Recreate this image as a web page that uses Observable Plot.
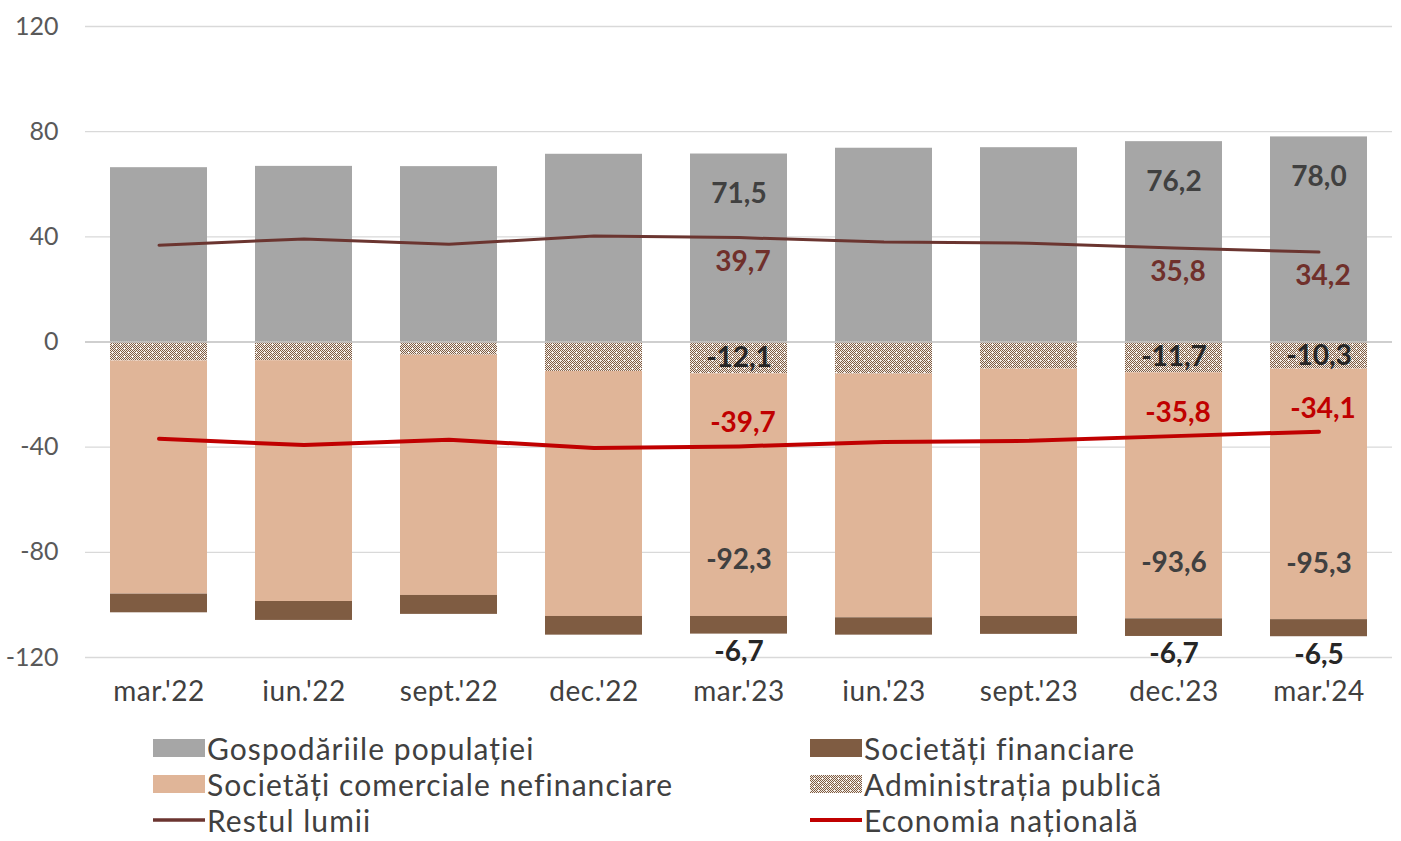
<!DOCTYPE html>
<html><head><meta charset="utf-8">
<script src="https://cdn.jsdelivr.net/npm/d3@7"></script>
<script src="https://cdn.jsdelivr.net/npm/@observablehq/plot@0.6"></script>
<style>
body{margin:0;background:#fff;font-family:Lato,"Open Sans",sans-serif;}
#wrap{position:relative;width:1401px;height:841px;overflow:hidden;}
#chart{position:absolute;left:0;top:0;}
.li{position:absolute;display:flex;align-items:center;height:36px;font-size:30px;letter-spacing:1.05px;color:#404040;white-space:nowrap;}
.li svg{margin-right:2px;}
</style></head><body><div id="wrap"><div id="chart"></div><div id="legend"></div></div>
<script>
const dates = ["mar.'22","iun.'22","sept.'22","dec.'22","mar.'23","iun.'23","sept.'23","dec.'23","mar.'24"];
const households      = [66.3, 66.8, 66.7, 71.4, 71.5, 73.7, 73.9, 76.2, 78.0];
const publicAdmin     = [-7.2, -7.1, -5.0, -11.2, -12.1, -12.2, -10.3, -11.7, -10.3];
const nonFinancial    = [-88.7, -91.6, -91.4, -93.2, -92.3, -92.7, -94.1, -93.6, -95.3];
const financial       = [-7.1, -7.2, -7.2, -7.1, -6.7, -6.6, -6.8, -6.7, -6.5];
const restOfWorld     = [36.8, 39.2, 37.2, 40.3, 39.7, 38.0, 37.6, 35.8, 34.2];
const nationalEconomy = [-36.8, -39.2, -37.2, -40.3, -39.7, -38.0, -37.6, -35.8, -34.1];
const labeledDates = ["mar.'23","dec.'23","mar.'24"];
const yTicks = [-120, -80, -40, 0, 40, 80, 120];
const seriesNames = ["Gospodăriile populației","Administrația publică","Societăți comerciale nefinanciare","Societăți financiare","Restul lumii","Economia națională"];

const colors = {
  "Gospodăriile populației": "#A6A6A6",
  "Administrația publică": "url(#hatch)",
  "Societăți comerciale nefinanciare": "#E0B598",
  "Societăți financiare": "#7F5C42",
  "Restul lumii": "#6B3530",
  "Economia națională": "#C00000"
};
const fmt = v => v.toFixed(1).replace(".", ",");

const barSeries = [households, publicAdmin, nonFinancial, financial];
const bars = [];
dates.forEach((d, i) => {
  barSeries.forEach((arr, k) => bars.push({date: d, series: seriesNames[k], value: arr[i]}));
});
const lineRow = dates.map((d, i) => ({date: d, row: restOfWorld[i], ne: nationalEconomy[i], hh: households[i], pa: publicAdmin[i], nf: nonFinancial[i], fi: financial[i]}));
const lab = lineRow.filter(r => labeledDates.includes(r.date));

const W = 1401, H = 715;
const plot = Plot.plot({
  width: W, height: H,
  marginLeft: 85, marginRight: 9, marginTop: 26, marginBottom: 58,
  style: {fontFamily: "Lato, 'Open Sans', sans-serif", fontSize: "25px", color: "#595959", background: "white"},
  x: {domain: dates, paddingInner: 0.333, paddingOuter: 0.16, tickSize: 0, tickPadding: 24, label: null},
  y: {domain: [-120, 120], ticks: yTicks, tickSize: 0, tickPadding: 27, tickFormat: d => String(d), label: null},
  color: {type: "identity"},
  marks: [
    Plot.ruleY(yTicks.filter(t => t !== 0), {stroke: "#D9D9D9", strokeWidth: 1.3}),
    Plot.barY(bars, Plot.stackY({x: "date", y: "value", fill: d => colors[d.series], order: null})),
    Plot.ruleY([0], {stroke: "#BFBFBF", strokeWidth: 1.5}),
    Plot.lineY(lineRow, {x: "date", y: "row", stroke: colors["Restul lumii"], strokeWidth: 3}),
    Plot.lineY(lineRow, {x: "date", y: "ne", stroke: colors["Economia națională"], strokeWidth: 4}),
    Plot.text(lab, {x: "date", y: "hh", text: d => fmt(d.hh), dy: 40, fill: "#404040", fontSize: 28, fontWeight: "bold"}),
    Plot.text(lab, {x: "date", y: "row", text: d => fmt(d.row), dy: 24, dx: 4, fill: "#70302B", fontSize: 28, fontWeight: "bold"}),
    Plot.text(lab, {x: "date", y: d => d.pa / 2, text: d => fmt(d.pa), fill: "#262626", fontSize: 28, fontWeight: "bold"}),
    Plot.text(lab, {x: "date", y: "ne", text: d => fmt(d.ne), dy: -23, dx: 4, fill: "#C00000", fontSize: 28, fontWeight: "bold"}),
    Plot.text(lab, {x: "date", y: d => d.pa + d.nf, text: d => fmt(d.nf), dy: -56, fill: "#404040", fontSize: 28, fontWeight: "bold"}),
    Plot.text(lab, {x: "date", y: d => d.pa + d.nf + d.fi, text: d => fmt(d.fi), dy: 18, fill: "#262626", fontSize: 28, fontWeight: "bold"})
  ]
});

// pattern for public administration
const ns = "http://www.w3.org/2000/svg";
function makePattern(svg) {
  const defs = document.createElementNS(ns, "defs");
  const pat = document.createElementNS(ns, "pattern");
  pat.setAttribute("id", "hatch");
  pat.setAttribute("patternUnits", "userSpaceOnUse");
  pat.setAttribute("width", 8); pat.setAttribute("height", 8);
  const bg = document.createElementNS(ns, "rect");
  bg.setAttribute("width", 8); bg.setAttribute("height", 8); bg.setAttribute("fill", "#f4efea");
  pat.appendChild(bg);
  for (let i = 0; i < 8; i++) for (let j = 0; j < 8; j++) {
    if ((i + j) % 2 === 0 && !((i === 0 && j === 0) || (i === 4 && j === 4))) {
      const r = document.createElementNS(ns, "rect");
      r.setAttribute("x", i); r.setAttribute("y", j); r.setAttribute("width", 1); r.setAttribute("height", 1);
      r.setAttribute("fill", "#7F5C42");
      pat.appendChild(r);
    }
  }
  defs.appendChild(pat);
  svg.insertBefore(defs, svg.firstChild);
}
makePattern(plot);
plot.querySelectorAll("g[aria-label='x-axis tick label'] text, g[aria-label='x-axis'] text").forEach(t => {
  t.setAttribute("fill", "#404040");
  t.style.fontSize = "28px";
  t.style.letterSpacing = "0.5px";
});
document.getElementById("chart").appendChild(plot);

// legend
const legend = document.getElementById("legend");
const legendItems = [
  {name: "Gospodăriile populației", kind: "rect", left: 153, cy: 748},
  {name: "Societăți financiare", kind: "rect", left: 810, cy: 748},
  {name: "Societăți comerciale nefinanciare", kind: "rect", left: 153, cy: 784},
  {name: "Administrația publică", kind: "pattern", left: 810, cy: 784},
  {name: "Restul lumii", kind: "line", left: 153, cy: 820},
  {name: "Economia națională", kind: "line", left: 810, cy: 820}
];
legendItems.forEach(it => {
  const div = document.createElement("div");
  div.className = "li";
  div.style.left = it.left + "px";
  div.style.top = (it.cy - 18) + "px";
  let sw;
  if (it.kind === "rect") sw = `<svg width="52" height="20"><rect x="0" y="1" width="52" height="18" fill="${colors[it.name]}"/></svg>`;
  else if (it.kind === "pattern") sw = `<svg width="52" height="20"><rect x="0" y="1" width="52" height="18" fill="url(#hatch)"/></svg>`;
  else sw = `<svg width="52" height="20"><line x1="0" x2="52" y1="10" y2="10" stroke="${colors[it.name]}" stroke-width="${it.name === 'Restul lumii' ? 3.5 : 4}"/></svg>`;
  div.innerHTML = sw + `<span>${it.name}</span>`;
  legend.appendChild(div);
});
</script></body></html>
